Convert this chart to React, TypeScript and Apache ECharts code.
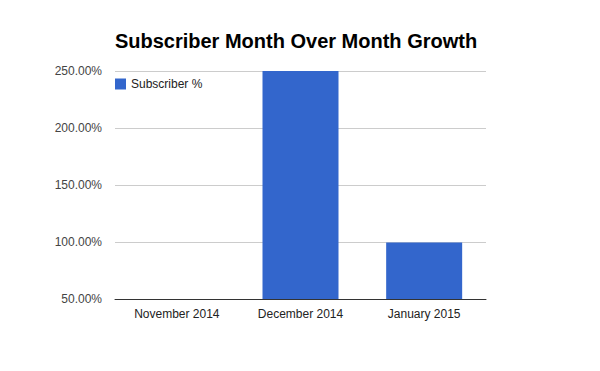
import React, { useEffect, useRef } from "react";
import * as echarts from "echarts";

const categories = ["November 2014", "December 2014", "January 2015"];
const subscriberPct = [0, 250, 99.6];
const yTicks = [50, 100, 150, 200, 250];

export default function App() {
  const ref = useRef<HTMLDivElement>(null);
  useEffect(() => {
    const chart = echarts.init(ref.current!, null, { renderer: "svg" });
    chart.setOption({
      animation: false,
      backgroundColor: "#ffffff",
      title: {
        text: "Subscriber Month Over Month Growth",
        left: 296,
        textAlign: "center",
        top: 31,
        padding: 0,
        textStyle: { fontFamily: "Liberation Sans, Arial", fontWeight: "bold", fontSize: 20, color: "#000" },
      },
      legend: {
        left: 115,
        top: 78,
        padding: 0,
        orient: "vertical",
        itemWidth: 11,
        itemHeight: 11,
        itemGap: 6,
        icon: "rect",
        textStyle: { fontFamily: "Liberation Sans, Arial", fontSize: 12, color: "#222" },
      },
      grid: { left: 115, right: 114, top: 71, bottom: 72, containLabel: false },
      xAxis: {
        type: "category",
        data: categories,
        axisTick: { show: false },
        axisLine: { lineStyle: { color: "#333", width: 1 } },
        axisLabel: { fontFamily: "Liberation Sans, Arial", fontSize: 12, color: "#222", margin: 9 },
      },
      yAxis: {
        type: "value",
        min: yTicks[0],
        max: yTicks[yTicks.length - 1],
        interval: 50,
        axisLine: { show: false },
        axisTick: { show: false },
        splitLine: { lineStyle: { color: "#cccccc" } },
        axisLabel: {
          fontFamily: "Liberation Sans, Arial",
          fontSize: 12,
          color: "#444",
          margin: 13,
          formatter: (v: number) => v.toFixed(2) + "%",
        },
      },
      series: [
        {
          name: "Subscriber %",
          type: "bar",
          data: subscriberPct,
          barWidth: 76,
          clip: true,
          itemStyle: { color: "#3366cc" },
        },
      ],
    });
    return () => chart.dispose();
  }, []);
  return <div ref={ref} style={{ width: 600, height: 371, margin: -8 }} />;
}
